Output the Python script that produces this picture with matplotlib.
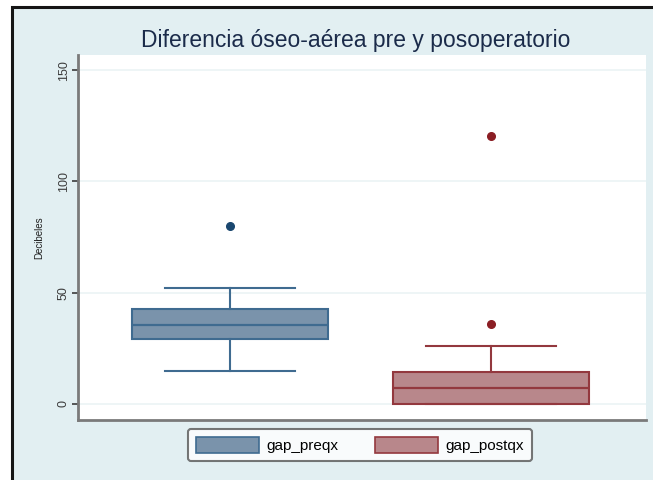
import matplotlib.pyplot as plt
import matplotlib.patches as mpatches

plt.rcParams['font.family'] = ['Liberation Sans', 'DejaVu Sans']

# box statistics (decibels)
groups = ["gap_preqx", "gap_postqx"]
q1 = [29, 0]
med = [35.5, 7]
q3 = [42.5, 14.5]
whislo = [15, 0]
whishi = [52, 26]
outliers = [[80], [36, 120.5]]

fill_cols = ["#7a93ab", "#b8878b"]
edge_cols = ["#3f6b90", "#93383e"]
dot_cols = ["#1a476f", "#8b1e24"]

fig = plt.figure(figsize=(6.53, 4.8), dpi=100)
fig.patch.set_facecolor("white")
# light outer panel with a dark frame on the left and top
fig.patches.append(mpatches.Rectangle((12 / 653, -0.1), 1.2, 1 - 7 / 480 + 0.1,
                                      transform=fig.transFigure, facecolor="#e2eff2",
                                      edgecolor="#151515", linewidth=2.2, zorder=-10))

ax = fig.add_axes([78 / 653, 1 - 420 / 480, 568 / 653, 365 / 480])
ax.set_facecolor("white")

stats = []
for i, g in enumerate(groups):
    stats.append(dict(label=g, q1=q1[i], med=med[i], q3=q3[i],
                      whislo=whislo[i], whishi=whishi[i], fliers=outliers[i]))

for i, s in enumerate(stats):
    ax.bxp([s], positions=[i + 1], widths=0.75, capwidths=0.5, patch_artist=True,
           boxprops=dict(facecolor=fill_cols[i], edgecolor=edge_cols[i], linewidth=1.5),
           medianprops=dict(color=edge_cols[i], linewidth=1.6),
           whiskerprops=dict(color=edge_cols[i], linewidth=1.5),
           capprops=dict(color=edge_cols[i], linewidth=1.5),
           flierprops=dict(marker="o", markersize=5.5, markerfacecolor=dot_cols[i],
                           markeredgecolor=dot_cols[i]))

ax.set_xlim(0.418, 2.594)
ax.set_ylim(-7.2, 156.8)
ax.set_xticks([])
ax.set_yticks([0, 50, 100, 150])
ax.tick_params(axis="y", labelrotation=90, labelsize=9, colors="#3c3c3c",
               length=4, width=1.2, pad=2)
for lab in ax.get_yticklabels():
    lab.set_verticalalignment("center")
ax.yaxis.grid(True, color="#edf4f6", linewidth=1.3)
ax.set_axisbelow(True)
for side in ["top", "right"]:
    ax.spines[side].set_visible(False)
for side in ["left", "bottom"]:
    ax.spines[side].set_color("#7a7a7a")
    ax.spines[side].set_linewidth(2)
ax.set_ylabel("Decibeles", fontsize=7, color="#202020", labelpad=10)

fig.text(356 / 653, 1 - 40 / 480, "Diferencia óseo-aérea pre y posoperatorio",
         ha="center", va="center", fontsize=16.5, color="#1b2b4a")

handles = [mpatches.Patch(facecolor=fill_cols[i], edgecolor=edge_cols[i], linewidth=1.2,
                          label=groups[i]) for i in range(2)]
leg = fig.legend(handles=handles, loc="center", bbox_to_anchor=(360 / 653, 1 - 445 / 480),
                 ncol=2, fontsize=11, handlelength=4.1, handleheight=1.2, handletextpad=0.5,
                 columnspacing=2.4, frameon=True, fancybox=True, borderpad=0.55)
leg.get_frame().set_edgecolor("#555555")
leg.get_frame().set_linewidth(1.5)

fig.savefig("out.png", dpi=100)
